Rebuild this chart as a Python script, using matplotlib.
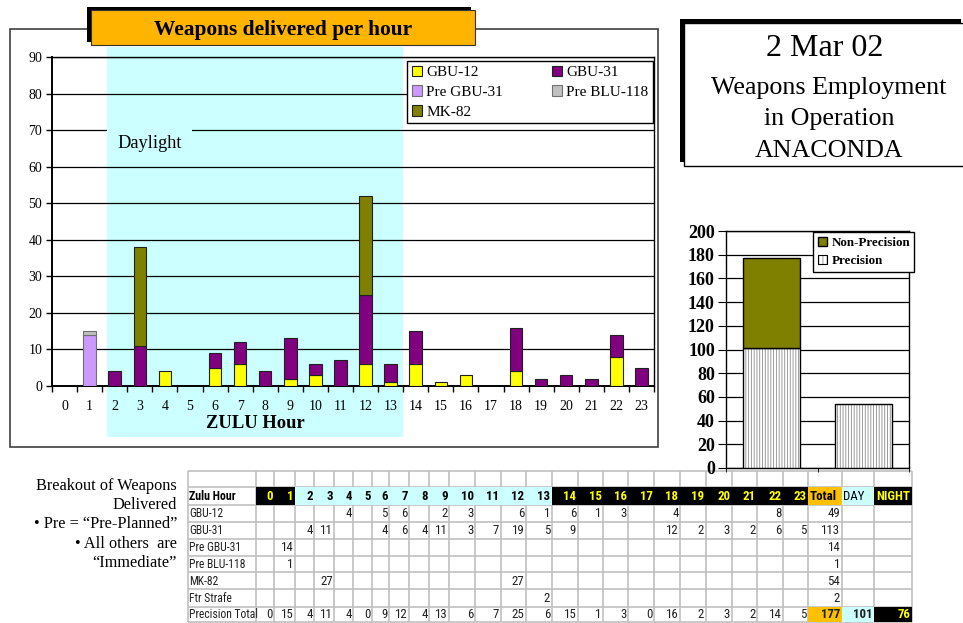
import matplotlib
matplotlib.use('Agg')
import matplotlib.pyplot as plt
from matplotlib.patches import Rectangle, Patch
from matplotlib import font_manager
from matplotlib.font_manager import FontProperties
import numpy as np

# ---------------- data ----------------
hours = list(range(24))
gbu12 = [None, None, None, None, 4, None, 5, 6, None, 2, 3, None, 6, 1, 6, 1, 3, None, 4, None, None, None, 8, None]
gbu31 = [None, None, 4, 11, None, None, 4, 6, 4, 11, 3, 7, 19, 5, 9, None, None, None, 12, 2, 3, 2, 6, 5]
pre_gbu31 = [None, 14] + [None] * 22
pre_blu118 = [None, 1] + [None] * 22
mk82 = [None, None, None, 27] + [None] * 8 + [27] + [None] * 11
ftr_strafe = [None] * 13 + [2] + [None] * 10
precision_total = [0, 15, 4, 11, 4, 0, 9, 12, 4, 13, 6, 7, 25, 6, 15, 1, 3, 0, 16, 2, 3, 2, 14, 5]
row_totals = [49, 113, 14, 1, 54, 2, 177]
day_total = 101
night_total = 76
day_hours = list(range(2, 14))

summary_cats = ["Day", "Night"]
summary_precision = [101, 54]
summary_nonprecision = [76, 0]

series_names = ["GBU-12", "GBU-31", "Pre GBU-31", "Pre BLU-118", "MK-82"]
series_colors = ["#FFFF00", "#800080", "#CC99FF", "#C0C0C0", "#808000"]
table_labels = ["GBU-12", "GBU-31", "Pre GBU-31", "Pre BLU-118", "MK-82", "Ftr Strafe", "Precision Total"]

# ---------------- layout ----------------
W, H = 963, 623
SERIF = ['Liberation Serif', 'DejaVu Serif']
plt.rcParams['hatch.linewidth'] = 0.6


def find_condensed(weight):
    prefs = ['Liberation Sans Narrow', 'Arial Narrow', 'Roboto Condensed', 'Open Sans Condensed',
             'DejaVu Sans Condensed', 'Noto Sans Condensed', 'DejaVu Sans']
    cands = []
    for f in font_manager.fontManager.ttflist:
        fn = f.fname.lower()
        if f.style != 'normal':
            continue
        if not ('narrow' in fn or 'condensed' in fn or 'narrow' in f.name.lower()
                or 'condensed' in f.name.lower() or f.stretch in ('condensed', 'semi-condensed')):
            continue
        if 'mono' in fn or 'serif' in fn:
            continue
        w = f.weight if isinstance(f.weight, int) else (700 if 'bold' in str(f.weight) else 400)
        if 'semibold' in fn or 'light' in fn or 'thin' in fn or 'black' in fn or 'medium' in fn or 'extra' in fn:
            continue
        rank = next((i for i, p in enumerate(prefs) if f.name.startswith(p.split()[0])), 99)
        cands.append((abs(w - weight), rank, f.fname))
    if cands:
        cands.sort()
        return cands[0][2], True
    return None, False


REG_FILE, COND = find_condensed(400)
BOLD_FILE, _ = find_condensed(700)


def table_font(bold, size):
    f = BOLD_FILE if bold else REG_FILE
    if f is not None:
        return FontProperties(fname=f, size=size)
    return FontProperties(family=['Liberation Sans', 'DejaVu Sans'], weight='bold' if bold else 'normal',
                          size=size * 0.89)


def fig_rect(l, t, r, b):
    return [l / W, 1 - b / H, (r - l) / W, (b - t) / H]


fig = plt.figure(figsize=(W / 100, H / 100), dpi=100)
bg = fig.add_axes([0, 0, 1, 1], zorder=0)
bg.set_xlim(0, W)
bg.set_ylim(H, 0)
bg.axis('off')

# main chart frame
bg.add_patch(Rectangle((10, 29), 648, 418, facecolor='white', edgecolor='#404040', lw=1.2, zorder=1))
# daylight band
bg.add_patch(Rectangle((107, 47), 296, 390, facecolor='#CCFFFF', edgecolor='none', zorder=2))
# title box
bg.add_patch(Rectangle((86.7, 6.7), 384.3, 35, facecolor='black', edgecolor='none', zorder=3))
bg.add_patch(Rectangle((90.7, 10), 384.3, 35, facecolor='#FFB400', edgecolor='#333333', lw=0.8, zorder=4))
bg.text(283, 35, "Weapons delivered per hour", ha='center', va='baseline', fontsize=15.4,
        fontweight='bold', family=SERIF, zorder=5)

# top-right title box
bg.add_patch(Rectangle((680, 19), 281, 143, facecolor='black', edgecolor='none', zorder=3))
bg.add_patch(Rectangle((684, 23), 285, 143, facecolor='white', edgecolor='black', lw=1, zorder=4))
bg.text(825, 55.7, "2 Mar 02", ha='center', va='baseline', fontsize=23, family=SERIF, zorder=5)
bg.text(829, 94, "Weapons Employment", ha='center', va='baseline', fontsize=18.7, family=SERIF, zorder=5)
bg.text(829, 125, "in Operation", ha='center', va='baseline', fontsize=18.7, family=SERIF, zorder=5)
bg.text(829, 156.7, "ANACONDA", ha='center', va='baseline', fontsize=18.7, family=SERIF, zorder=5)

# breakout note
note_lines = ["Breakout of Weapons", "Delivered", "\u2022 Pre = \u201cPre-Planned\u201d",
              "\u2022 All others  are", "\u201cImmediate\u201d"]
for i, line in enumerate(note_lines):
    bg.text(177, 490 + i * 19.2, line, ha='right', va='baseline', fontsize=11.7, family=SERIF)

# ---------------- main chart ----------------
ax = fig.add_axes(fig_rect(52, 57, 654, 386), zorder=2)
ax.patch.set_alpha(0)
x = np.arange(len(hours))
bottom = np.zeros(len(hours))
handles = {}
for name, vals, c in zip(series_names, [gbu12, gbu31, pre_gbu31, pre_blu118, mk82], series_colors):
    v = np.array([0 if a is None else a for a in vals], float)
    m = v > 0
    ec = '#707070' if name in ("Pre GBU-31", "Pre BLU-118") else '#202020'
    handles[name] = ax.bar(x[m], v[m], 0.5, bottom=bottom[m], color=c, edgecolor=ec, lw=0.8, zorder=3, label=name)
    bottom += v

ax.set_xlim(-0.5, 23.5)
ax.set_ylim(0, 90)
ax.set_yticks(np.arange(0, 91, 10))
ax.set_xticks(x)
ax.set_xticklabels([str(h) for h in hours])
ax.set_xticks(np.arange(-0.5, 24, 1), minor=True)
ax.tick_params(axis='x', which='major', length=0, pad=10, labelsize=10)
ax.tick_params(axis='x', which='minor', length=4, direction='out', width=1, color='black')
ax.tick_params(axis='y', length=4, direction='out', width=1, pad=3, labelsize=10)
for lab in ax.get_xticklabels() + ax.get_yticklabels():
    lab.set_family(SERIF)
ax.set_axisbelow(True)
ax.yaxis.grid(True, color='black', lw=0.9)
for s in ax.spines.values():
    s.set_color('black')
    s.set_linewidth(1)
ax.spines['left'].set_linewidth(1.4)
ax.spines['bottom'].set_linewidth(1.4)

ax.set_xlabel("ZULU Hour", fontsize=13.3, fontweight='bold', family=SERIF)
ax.xaxis.set_label_coords((255 - 52) / 602, (386 - 415) / 329)

ax.text(117, 148, "Daylight", transform=bg.transData, fontsize=13.2, family=SERIF, va='baseline', ha='left',
        zorder=2.5, bbox=dict(boxstyle='square,pad=0.55', facecolor='#CCFFFF', edgecolor='none'))

order = ["GBU-12", "Pre GBU-31", "MK-82", "GBU-31", "Pre BLU-118"]
leg = ax.legend([handles[n] for n in order], order, ncol=2, loc='upper left',
                bbox_to_anchor=(407 / W, 1 - 122 / H, 246 / W, 61 / H), bbox_transform=fig.transFigure,
                mode='expand', borderaxespad=0, fancybox=False, framealpha=1, edgecolor='black',
                prop={'family': SERIF, 'size': 11}, handlelength=0.65, handleheight=0.65,
                handletextpad=0.3, labelspacing=0.42, borderpad=0.3, columnspacing=2.0)
leg.get_frame().set_linewidth(1)
leg.set_zorder(10)

# ---------------- summary chart ----------------
ax2 = fig.add_axes(fig_rect(726, 231, 909, 468), zorder=2)
ax2.patch.set_alpha(0)
xs = np.arange(len(summary_cats))
ax2.bar(xs, summary_precision, 0.62, color='white', edgecolor='#8C8C8C', hatch='||||||', lw=0, zorder=3)
ax2.bar(xs, summary_precision, 0.62, fill=False, edgecolor='black', lw=1, zorder=4)
npv = np.array(summary_nonprecision, float)
m2 = npv > 0
hn = ax2.bar(xs[m2], npv[m2], 0.62, bottom=np.array(summary_precision)[m2], color='#808000',
             edgecolor='black', lw=1, zorder=4)
ax2.set_xlim(-0.5, 1.5)
ax2.set_ylim(0, 200)
ax2.set_yticks(np.arange(0, 201, 20))
ax2.set_xticks([])
ax2.set_xticks([-0.5, 0.5, 1.5], minor=True)
ax2.tick_params(axis='x', which='minor', length=3, direction='out', labelbottom=False)
ax2.tick_params(axis='y', length=6, direction='out', pad=2, labelsize=13)
for lab in ax2.get_yticklabels():
    lab.set_family(SERIF)
    lab.set_fontweight('bold')
ax2.set_axisbelow(True)
ax2.yaxis.grid(True, color='black', lw=0.9)
for s in ax2.spines.values():
    s.set_color('black')
    s.set_linewidth(1)
prec_handle = (Patch(facecolor='white', edgecolor='#8C8C8C', hatch='||||', lw=0),
               Patch(fill=False, edgecolor='black', lw=0.8))
leg2 = ax2.legend([hn, prec_handle], ["Non-Precision", "Precision"], loc='upper left',
                  bbox_to_anchor=(813 / W, 1 - 271 / H, 101 / W, 39 / H), bbox_transform=fig.transFigure,
                  mode='expand', borderaxespad=0, fancybox=False, framealpha=1, edgecolor='black',
                  prop={'family': SERIF, 'size': 9.4, 'weight': 'bold'}, handlelength=0.75, handleheight=0.75,
                  handletextpad=0.3, labelspacing=0.45, borderpad=0.35)
leg2.get_frame().set_linewidth(1)
leg2.set_zorder(10)

# ---------------- table ----------------
col_x = [187.7, 256, 274.3, 295, 314.3, 334.3, 353.3, 372.3, 389.3, 409.3, 429.3, 449.3, 475, 500.7,
         526, 551.7, 577.7, 603.3, 628.3, 654.3, 680, 705.7, 731.7, 757.3, 783.3, 808.3, 841.7, 874.3, 911.7]
row_y = [470.7, 487.3, 505, 521.7, 539, 555.7, 572.3, 589, 606.7, 621.7]
GRID = '#C0C0C0'
for yy in row_y:
    bg.plot([col_x[0], col_x[-1]], [yy, yy], color=GRID, lw=1.2, zorder=6, solid_capstyle='butt')
for xx in col_x:
    bg.plot([xx, xx], [row_y[0], row_y[-1]], color=GRID, lw=1.2, zorder=6, solid_capstyle='butt')

CYAN = '#CCFFFF'
ORANGE = '#FFC000'
YEL = '#FFFF00'


def cell_fill(ci, ri, color):
    bg.add_patch(Rectangle((col_x[ci], row_y[ri]), col_x[ci + 1] - col_x[ci], row_y[ri + 1] - row_y[ri],
                           facecolor=color, edgecolor='none', zorder=7))


def cell_text(ci, ri, s, color='#202020', bold=False, ha='right', size=9.3):
    xx = col_x[ci + 1] - 1.5 if ha == 'right' else col_x[ci] + 1.5
    yy = (row_y[ri] + row_y[ri + 1]) / 2 + 0.5
    bg.text(xx, yy, s, ha=ha, va='center', fontproperties=table_font(bold, size),
            color=color, zorder=8)


# header row
cell_text(0, 1, "Zulu Hour", color='black', bold=True, ha='left', size=8.6)
for h in hours:
    ci = h + 1
    if h in day_hours:
        cell_fill(ci, 1, CYAN)
        cell_text(ci, 1, str(h), color='black', bold=True)
    else:
        cell_fill(ci, 1, 'black')
        cell_text(ci, 1, str(h), color=YEL, bold=True)
cell_fill(25, 1, ORANGE)
cell_text(25, 1, "Total", color='black', bold=True, ha='left')
cell_fill(26, 1, CYAN)
cell_text(26, 1, "DAY", color='black', ha='left')
cell_fill(27, 1, 'black')
cell_text(27, 1, "NIGHT", color=YEL, bold=True, ha='left')

# data rows
table_rows = [gbu12, gbu31, pre_gbu31, pre_blu118, mk82, ftr_strafe, precision_total]
for r, (lab, vals, tot) in enumerate(zip(table_labels, table_rows, row_totals)):
    ri = r + 2
    cell_text(0, ri, lab, ha='left', size=8.4)
    for h, v in enumerate(vals):
        if v is not None:
            cell_text(h + 1, ri, str(v))
    if lab == "Precision Total":
        cell_fill(25, ri, ORANGE)
        cell_fill(26, ri, CYAN)
        cell_fill(27, ri, 'black')
        cell_text(25, ri, str(tot), bold=True)
        cell_text(26, ri, str(day_total), bold=True)
        cell_text(27, ri, str(night_total), color=YEL, bold=True)
    else:
        cell_text(25, ri, str(tot))

fig.savefig("out.png", dpi=100)
